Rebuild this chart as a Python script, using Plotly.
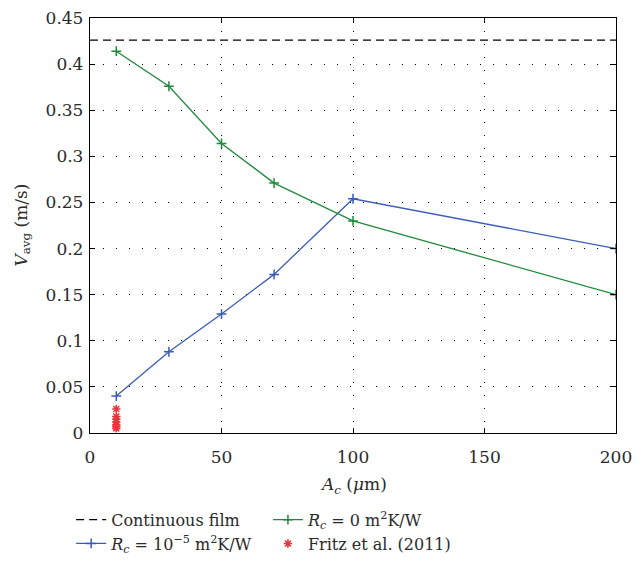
import plotly.graph_objects as go

ac = [10, 30, 50, 70, 100, 200]
v_rc0 = [0.414, 0.376, 0.314, 0.271, 0.230, 0.150]
v_rc5 = [0.040, 0.088, 0.129, 0.172, 0.254, 0.200]
film_x = [0, 200]
film_v = [0.426, 0.426]
fritz_x = [10, 10, 10, 10, 10, 10, 10]
fritz_v = [0.026, 0.018, 0.015, 0.012, 0.009, 0.007, 0.005]

FONT = "DejaVu Serif"
green = "#1f8a3c"
blue = "#3a5cb8"
red = "#e5383b"
txt = "#2a2a2a"

W, H = 641, 570
ML, MR, MT, MB = 90, 25, 18, 137
PW, PH = W - ML - MR, H - MT - MB

fig = go.Figure()
fig.add_trace(go.Scatter(x=film_x, y=film_v, mode="lines", name="Continuous film",
                         line=dict(color="black", width=1.3, dash="8px,5px"), legend="legend"))
fig.add_trace(go.Scatter(x=ac, y=v_rc5, mode="lines+markers",
                         name="<i>R<sub>c</sub></i> = 10<sup>−5</sup> m<sup>2</sup>K/W",
                         line=dict(color=blue, width=1.3),
                         marker=dict(symbol="cross-thin", size=7, line=dict(color=blue, width=1.5)),
                         legend="legend"))
fig.add_trace(go.Scatter(x=ac, y=v_rc0, mode="lines+markers",
                         name="<i>R<sub>c</sub></i> = 0 m<sup>2</sup>K/W",
                         line=dict(color=green, width=1.3),
                         marker=dict(symbol="cross-thin", size=7, line=dict(color=green, width=1.5)),
                         legend="legend2"))
fig.add_trace(go.Scatter(x=fritz_x, y=fritz_v, mode="markers", name="Fritz et al. (2011)",
                         marker=dict(symbol="asterisk", size=7, color=red, line=dict(color=red, width=1.5)),
                         legend="legend2"))

axis_common = dict(showline=True, linecolor="black", linewidth=1.3, mirror="ticks",
                   ticks="inside", ticklen=5, tickcolor="black",
                   showgrid=True, gridcolor="black", gridwidth=1, griddash="1px,12px",
                   zeroline=False, tickfont=dict(family=FONT, size=17, color=txt))

fig.update_xaxes(range=[0, 200], tickvals=[0, 50, 100, 150, 200],
                 ticklabelstandoff=8, **axis_common)
fig.update_yaxes(range=[0, 0.45], tickvals=[0, 0.05, 0.1, 0.15, 0.2, 0.25, 0.3, 0.35, 0.4, 0.45],
                 ticktext=["0", "0.05", "0.1", "0.15", "0.2", "0.25", "0.3", "0.35", "0.4", "0.45"],
                 ticklabelstandoff=2, **axis_common)

fig.add_annotation(text="<i>A<sub>c</sub></i> (<i>μ</i>m)", xref="paper", yref="paper",
                   x=0.5, y=(H - MB - 485) / PH, xanchor="center", yanchor="middle", showarrow=False,
                   font=dict(family=FONT, size=17, color=txt))
fig.add_annotation(text="<i>V</i><sub>avg</sub> (m/s)", xref="paper", yref="paper",
                   x=(22 - ML) / PW, y=0.5, xanchor="center", yanchor="middle", showarrow=False,
                   textangle=-90, font=dict(family=FONT, size=17, color=txt))

leg_common = dict(font=dict(family=FONT, size=16, color=txt), bgcolor="rgba(0,0,0,0)",
                  xref="container", yref="container", xanchor="left", yanchor="top",
                  itemwidth=30, tracegroupgap=0, orientation="v")
fig.update_layout(
    width=W, height=H,
    margin=dict(l=ML, r=MR, t=MT, b=MB, autoexpand=False),
    plot_bgcolor="white", paper_bgcolor="white",
    font=dict(family=FONT, size=16, color=txt),
    legend=dict(x=0.111, y=0.118, **leg_common),
    legend2=dict(x=0.418, y=0.118, **leg_common),
)
fig.write_html("out.html")
